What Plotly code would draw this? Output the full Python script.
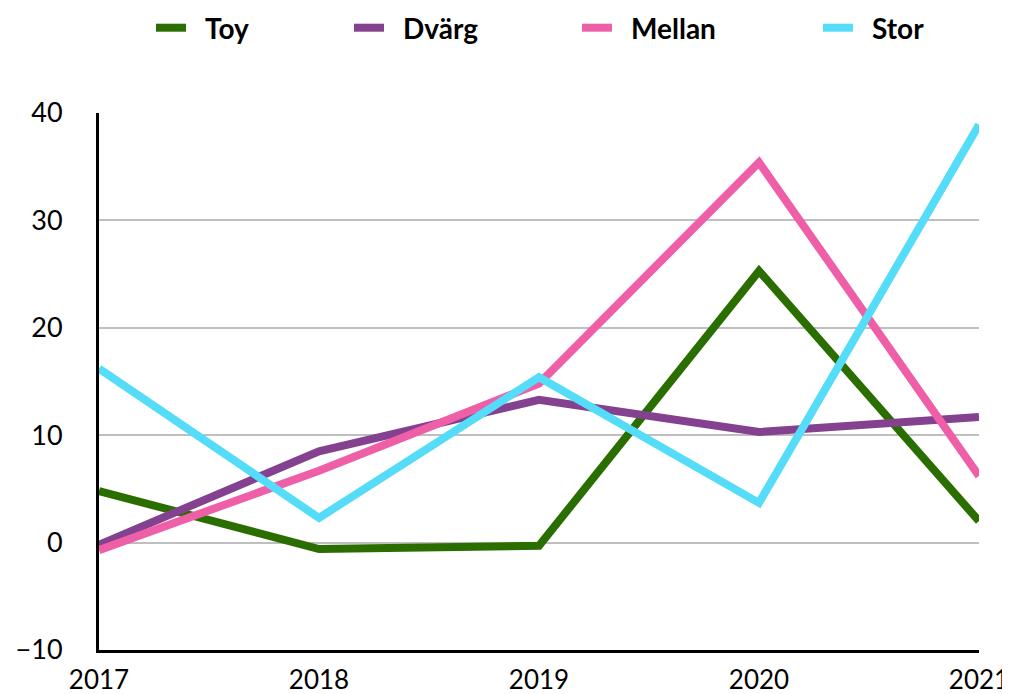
import plotly.graph_objects as go

years = [2017, 2018, 2019, 2020, 2021]
series_names = ["Toy", "Dvärg", "Mellan", "Stor"]
toy = [4.8, -0.6, -0.3, 25.3, 2.0]
dvarg = [-0.2, 8.5, 13.3, 10.3, 11.7]
mellan = [-0.7, 6.7, 14.8, 35.4, 6.2]
stor = [16.2, 2.3, 15.4, 3.7, 38.9]
colors = ["#2a6e00", "#83418f", "#ee5fa8", "#55dcf8"]
y_ticks = [-10, 0, 10, 20, 30, 40]
y_ticktext = ["\u221210", "0", "10", "20", "30", "40"]

values = [toy, dvarg, mellan, stor]
legend_ids = ["legend", "legend2", "legend3", "legend4"]
legend_x = [157, 355, 583, 824]  # pixel left of each legend symbol

W, H = 1010, 694
OFF = 8  # page body margin offset

fig = go.Figure()
for name, vals, col, lid in zip(series_names, values, colors, legend_ids):
    fig.add_trace(go.Scatter(
        x=years, y=vals, name="\u2002" + name, mode="lines",
        line=dict(color=col, width=8),
        legend=lid, cliponaxis=False,
    ))

font_family = "Lato, 'Open Sans', sans-serif"
layout_legends = {}
for lid, lx in zip(legend_ids, legend_x):
    layout_legends[lid] = dict(
        x=(lx - OFF - 6) / W, xref="container",
        y=1 - (28 - OFF) / H, yref="container",
        xanchor="left", yanchor="middle",
        orientation="h", bgcolor="rgba(0,0,0,0)",
        font=dict(family=font_family, size=28, color="#000000", weight="bold"),
    )

fig.update_layout(
    width=W, height=H,
    margin=dict(l=99 - OFF, r=31 + OFF, t=113 - OFF, b=44 + OFF, autoexpand=False),
    paper_bgcolor="white", plot_bgcolor="white",
    showlegend=True,
    font=dict(family=font_family, size=27, color="#000000"),
    **layout_legends,
)
fig.update_xaxes(
    range=[2017, 2021], tickvals=years, ticktext=[str(y) for y in years],
    showgrid=False, zeroline=False, automargin=False,
    showline=True, linecolor="#000000", linewidth=3, layer="below traces",
    ticks="outside", ticklen=0, ticklabelstandoff=5,
    tickfont=dict(size=26),
)
fig.update_yaxes(
    range=[-10, 40], tickvals=y_ticks, ticktext=y_ticktext,
    showgrid=True, gridcolor="#bfbfbf", gridwidth=2, zeroline=False,
    automargin=False,
    showline=True, linecolor="#000000", linewidth=3, layer="below traces",
    ticks="outside", ticklen=0, ticklabelstandoff=28,
    tickfont=dict(size=27),
)

fig.write_html("out.html")
